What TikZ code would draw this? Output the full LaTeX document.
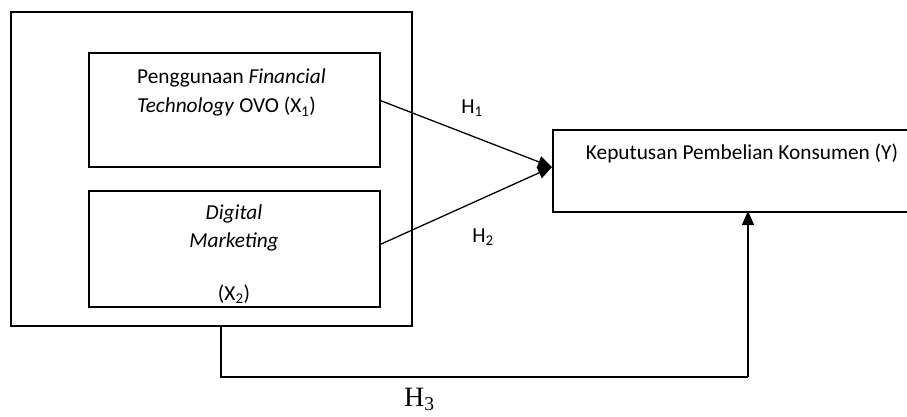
\documentclass[tikz,border=0pt]{standalone}
\usepackage{fontspec}
\setmainfont{Carlito}
\newfontfamily\timesfont{Liberation Serif}
\usetikzlibrary{arrows.meta}
\begin{document}
\begin{tikzpicture}[x=1pt,y=-1pt,
  boxline/.style={draw,line width=1.6pt},
  conn/.style={line width=1.3pt,-{Triangle[length=14pt,width=12pt]}},
  txt/.style={inner sep=0pt,font=\fontsize{21.3}{25}\selectfont},
  lbl/.style={inner sep=0pt,font=\fontsize{21.3}{25}\selectfont}]
\useasboundingbox (0,0) rectangle (907,417);
\draw[boxline] (11,12) rectangle (412,326);
\node[boxline,minimum width=291pt,minimum height=114pt,anchor=north west,inner sep=0pt] (x1) at (88,52) {};
\node[boxline,minimum width=291pt,minimum height=116pt,anchor=north west,inner sep=0pt] (x2) at (88,190) {};
\node[boxline,minimum width=360pt,minimum height=82pt,anchor=north west,inner sep=0pt] (y) at (552,129) {};
\node[txt,anchor=west] (t1a) at (137,78) {Penggunaan \textit{Financial}};
\node[txt,anchor=west] (t1b) at (137,107) {\textit{Technology} OVO (X\textsubscript{1})};
\node[txt] (t2a) at (234,214) {\textit{Digital}};
\node[txt] (t2b) at (234,242) {\textit{Marketing}};
\node[txt] (t2c) at (234,294) {(X\textsubscript{2})};
\node[txt] (ty) at (742,153) {Keputusan Pembelian Konsumen (Y)};
\node[lbl] (h1) at (472,108) {H\textsubscript{1}};
\node[lbl] (h2) at (483,237) {H\textsubscript{2}};
\node[inner sep=0pt,font=\timesfont\fontsize{28}{33}\selectfont,anchor=south west] (h3) at (404,411) {H\textsubscript{3}};
\coordinate (tip) at (552,167);
\coordinate (s1) at (379,100);
\coordinate (s2) at (379,245);
\coordinate (b0) at (221,326);
\coordinate (b1) at (221,377);
\coordinate (b2) at (748,377);
\coordinate (yb) at (748,211);
\draw[conn] (s1) -- (tip);
\draw[conn] (s2) -- (tip);
\draw[line width=1.3pt] (b0) -- (b1) -- (b2);
\draw[conn] (b2) -- (yb);
\end{tikzpicture}
\end{document}
